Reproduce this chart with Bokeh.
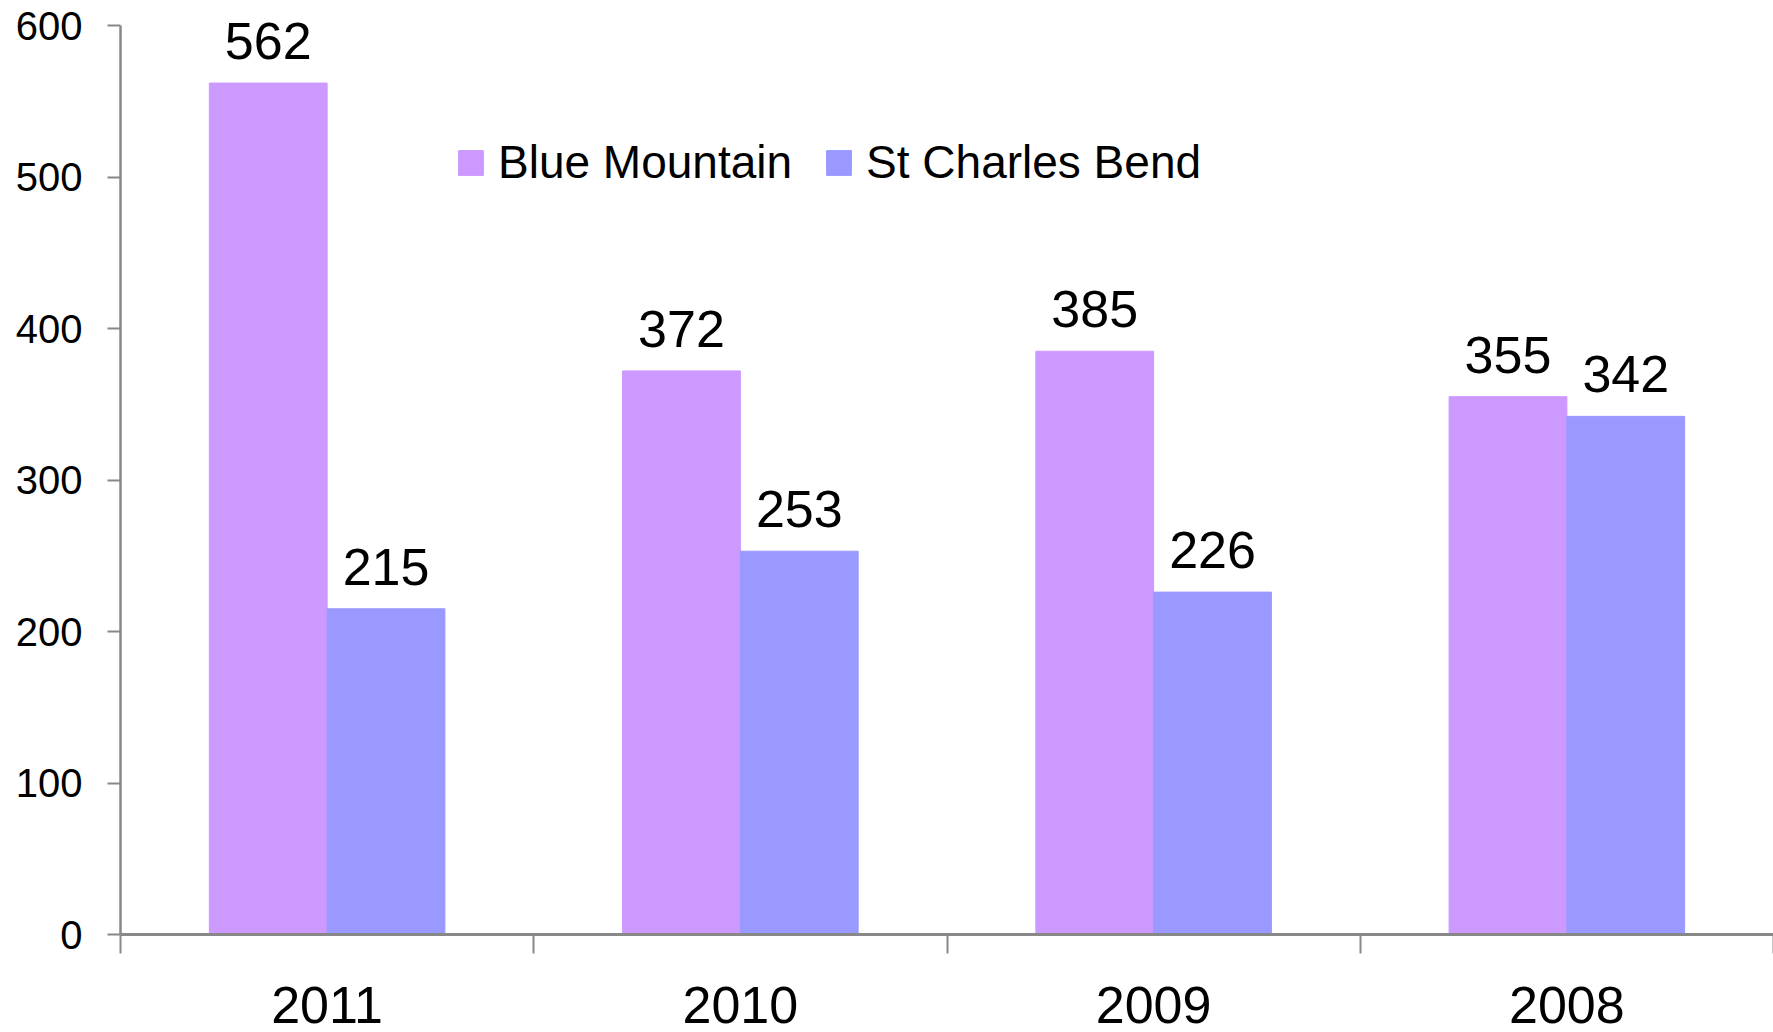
import numpy as np
from bokeh.plotting import figure
from bokeh.models import ColumnDataSource, FixedTicker, Legend, LegendItem
from bokeh.core.properties import value
from bokeh.embed import file_html
from bokeh.resources import INLINE

years = ["2011", "2010", "2009", "2008"]
blue_mountain = [562, 372, 385, 355]
st_charles_bend = [215, 253, 226, 342]
series_names = ["Blue Mountain", "St Charles Bend"]
colors = ["#CC99FF", "#9999FF"]
y_ticks = [0, 100, 200, 300, 400, 500, 600]
y_max = 600

FONT = "Liberation Sans"
n = len(years)
centers = np.arange(n) + 0.5
bw = 0.285

# frame spans page y 0..934; value 600 must sit at y=25
frame_h = 934
y_end = y_max * frame_h / (frame_h - 25)

p = figure(width=1773, height=1032, output_backend="svg", toolbar_location=None,
           x_range=(0, n), y_range=(0, y_end),
           min_border_left=120, min_border_right=0, min_border_top=0, min_border_bottom=98)
p.outline_line_color = None
p.xgrid.visible = False
p.ygrid.visible = False
p.background_fill_color = "white"
p.border_fill_color = "white"

src1 = ColumnDataSource(dict(x=centers - bw / 2, top=blue_mountain, lab=[str(v) for v in blue_mountain]))
src2 = ColumnDataSource(dict(x=centers + bw / 2, top=st_charles_bend, lab=[str(v) for v in st_charles_bend]))

r1 = p.vbar(x="x", top="top", width=bw, bottom=0, source=src1, fill_color=colors[0], line_color=colors[0])
r2 = p.vbar(x="x", top="top", width=bw, bottom=0, source=src2, fill_color=colors[1], line_color=colors[1])

for s in (src1, src2):
    p.text(x="x", y="top", text="lab", source=s, text_align="center", text_baseline="alphabetic",
           y_offset=-42, text_font=value(FONT), text_font_size="52px", text_color="black")

# x axis
xa = p.xaxis[0]
xa.ticker = FixedTicker(ticks=list(centers), minor_ticks=list(np.arange(n + 1)))
xa.major_label_overrides = {float(c): y for c, y in zip(centers, years)}
xa.major_tick_out = 0
xa.major_tick_in = 0
xa.minor_tick_out = 19
xa.minor_tick_in = 0
xa.minor_tick_line_color = "#888888"
xa.minor_tick_line_width = 2
xa.axis_line_color = "#888888"
xa.axis_line_width = 3
xa.major_label_text_font = FONT
xa.major_label_text_font_size = "52px"
xa.major_label_text_color = "black"
xa.major_label_standoff = 33

# y axis
ya = p.yaxis[0]
ya.ticker = FixedTicker(ticks=y_ticks)
ya.bounds = (0, y_max)
ya.major_tick_out = 13
ya.major_tick_in = 0
ya.minor_tick_out = 0
ya.minor_tick_in = 0
ya.major_tick_line_color = "#888888"
ya.major_tick_line_width = 2
ya.axis_line_color = "#888888"
ya.axis_line_width = 2.5
ya.major_label_text_font = FONT
ya.major_label_text_font_size = "40px"
ya.major_label_text_color = "black"
ya.major_label_standoff = 25

legend = Legend(items=[LegendItem(label=series_names[0], renderers=[r1]),
                       LegendItem(label=series_names[1], renderers=[r2])],
                orientation="horizontal", location=(335, 745),
                glyph_width=31, glyph_height=31, label_standoff=12, spacing=31,
                padding=0, margin=0, border_line_color=None, background_fill_alpha=0,
                label_text_font=FONT, label_text_font_size="46px", label_text_color="black")
p.add_layout(legend, "center")

open("out.html", "w").write(file_html(p, INLINE))
